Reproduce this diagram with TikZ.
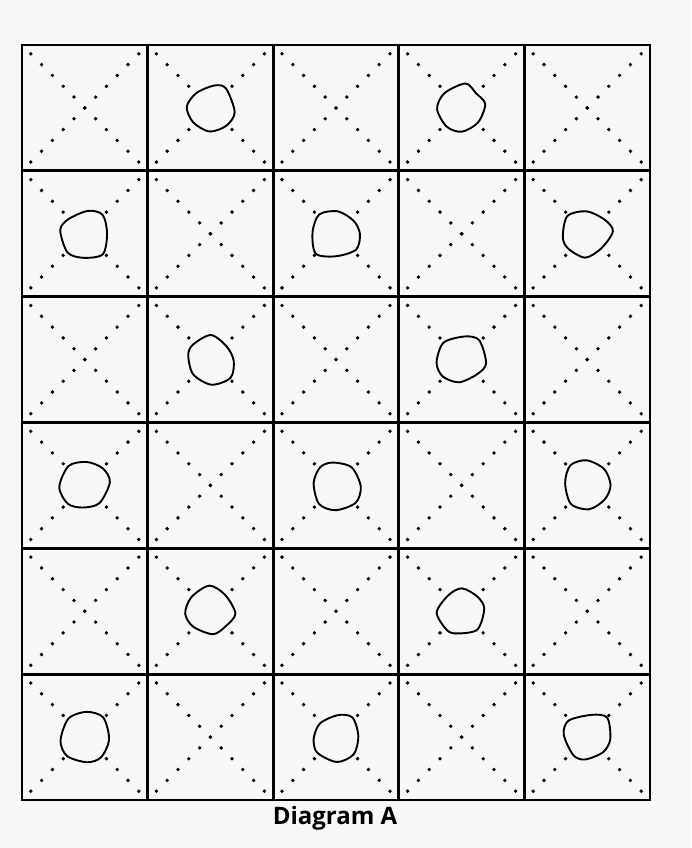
\documentclass[tikz,border=0pt]{standalone}
\usepackage{fontspec}
\setsansfont{Open Sans}
\definecolor{paper}{HTML}{F7F7F5}

\tikzset{
  celldot/.style={fill=black},
  blobline/.style={line width=1.9pt, line join=round},
  gridline/.style={line width=2.7pt, line cap=rect}
}
\newcommand{\blob}[2]{%
  \draw[blobline] plot[smooth cycle, domain=0:315, samples=8, variable=\t]
    ({#1+0.5+(0.19+0.015*rand)*cos(\t+10*rand)},
     {#2+0.5+(0.19+0.015*rand)*sin(\t+10*rand)});}

\begin{document}
\begin{tikzpicture}[x=1pt, y=-1pt]
  \fill[paper] (0,0) rectangle (691,848);
  \useasboundingbox (0,0) rectangle (691,848);
  \pgfmathsetseed{7}
  \begin{scope}[shift={(22,45)}, x=125.6pt, y=-125.83pt]
    % dotted diagonals, centre dots left out where a blob sits
    \foreach \c in {0,...,4}
      \foreach \r in {0,...,5} {
        \pgfmathtruncatemacro{\hole}{mod(\c+\r,2)}
        \foreach \k in {-5,...,5} {
          \pgfmathtruncatemacro{\gap}{\hole*(abs(\k)<2)}
          \ifnum\gap=0
            \fill[celldot] (\c+0.5+\k*0.086, \r+0.5+\k*0.086) circle[radius=1.9pt];
            \fill[celldot] (\c+0.5+\k*0.086, \r+0.5-\k*0.086) circle[radius=1.9pt];
          \fi
        }
      }
    % blobs
    \blob{1}{0}
    \blob{3}{0}
    \blob{0}{1}
    \blob{2}{1}
    \blob{4}{1}
    \blob{1}{2}
    \blob{3}{2}
    \blob{0}{3}
    \blob{2}{3}
    \blob{4}{3}
    \blob{1}{4}
    \blob{3}{4}
    \blob{0}{5}
    \blob{2}{5}
    \blob{4}{5}
    % grid
    \foreach \c in {0,...,5}
      \draw[gridline] (\c,0) -- (\c,6);
    \foreach \r in {0,...,6}
      \draw[gridline] (0,\r) -- (5,\r);
  \end{scope}
  \node[font=\sffamily\bfseries\fontsize{24}{28}\selectfont] (caption) at (335,818) {Diagram A};
\end{tikzpicture}
\end{document}
